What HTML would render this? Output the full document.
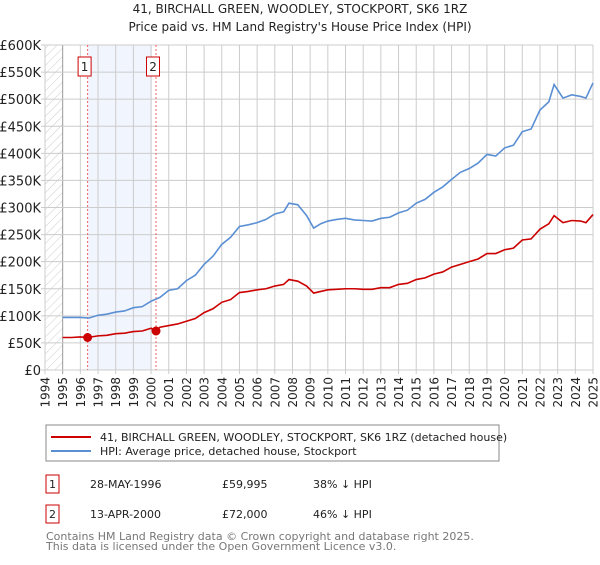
<!DOCTYPE html>
<html><head><meta charset="utf-8"><style>
body{margin:0;background:#fff;font-family:"Liberation Sans","DejaVu Sans",sans-serif;}
svg text{font-family:"DejaVu Sans","Liberation Sans",sans-serif;}
</style></head><body>
<svg id="chart" width="600" height="560" viewBox="0 0 600 560" xmlns="http://www.w3.org/2000/svg">
<defs><pattern id="hatch" width="6" height="6" patternUnits="userSpaceOnUse" patternTransform="rotate(45)"><line x1="0" y1="0" x2="0" y2="6" stroke="#ccc" stroke-width="1"/></pattern></defs>
<text x="300" y="13" text-anchor="middle" font-size="12" fill="#222">41, BIRCHALL GREEN, WOODLEY, STOCKPORT, SK6 1RZ</text>
<text x="300" y="31" text-anchor="middle" font-size="12" fill="#222">Price paid vs. HM Land Registry's House Price Index (HPI)</text>
<g id="grid"></g>
<g id="marks"></g>
<g id="axes"></g>
<rect x="46" y="425" width="453" height="36" fill="#fff" stroke="#888"/>
<line x1="51" y1="437" x2="91" y2="437" stroke="#cc0000" stroke-width="2"/>
<text x="100" y="441" font-size="11" fill="#222">41, BIRCHALL GREEN, WOODLEY, STOCKPORT, SK6 1RZ (detached house)</text>
<line x1="51" y1="451" x2="91" y2="451" stroke="#5b8fd4" stroke-width="2"/>
<text x="100" y="455" font-size="11" fill="#222">HPI: Average price, detached house, Stockport</text>
<g font-size="11" fill="#222">
<rect x="46" y="475" width="13" height="18" fill="#fff" stroke="#cc0000"/><text x="52.5" y="488" text-anchor="middle">1</text>
<text x="90" y="488">28-MAY-1996</text><text x="222" y="488">£59,995</text><text x="313" y="488">38% ↓ HPI</text></g>
<g font-size="11" fill="#222">
<rect x="46" y="505" width="13" height="18" fill="#fff" stroke="#cc0000"/><text x="52.5" y="518" text-anchor="middle">2</text>
<text x="90" y="518">13-APR-2000</text><text x="222" y="518">£72,000</text><text x="313" y="518">46% ↓ HPI</text></g>
<text x="46" y="540" font-size="11" fill="#777">Contains HM Land Registry data © Crown copyright and database right 2025.</text>
<text x="46" y="550" font-size="11" fill="#777">This data is licensed under the Open Government Licence v3.0.</text>
</svg>
<script>
const yearTicks=[1994,1995,1996,1997,1998,1999,2000,2001,2002,2003,2004,2005,2006,2007,2008,2009,2010,2011,2012,2013,2014,2015,2016,2017,2018,2019,2020,2021,2022,2023,2024,2025];
const priceTicks=[0,50000,100000,150000,200000,250000,300000,350000,400000,450000,500000,550000,600000];
const priceTickLabels=["£0","£50K","£100K","£150K","£200K","£250K","£300K","£350K","£400K","£450K","£500K","£550K","£600K"];
const hpiYears=[1995,1995.5,1996,1996.5,1997,1997.5,1998,1998.5,1999,1999.5,2000,2000.5,2001,2001.5,2002,2002.5,2003,2003.5,2004,2004.5,2005,2005.5,2006,2006.5,2007,2007.5,2007.8,2008.3,2008.8,2009.2,2009.6,2010,2010.5,2011,2011.5,2012,2012.5,2013,2013.5,2014,2014.5,2015,2015.5,2016,2016.5,2017,2017.5,2018,2018.5,2019,2019.5,2020,2020.5,2021,2021.5,2022,2022.5,2022.8,2023.3,2023.8,2024.3,2024.6,2025];
const hpiValues=[97000,97000,97000,96000,101000,103000,107000,109000,115000,117000,127000,134000,147000,150000,165000,175000,195000,210000,232000,245000,265000,268000,272000,278000,288000,292000,308000,305000,285000,262000,270000,275000,278000,280000,277000,276000,275000,280000,282000,290000,295000,308000,315000,328000,338000,352000,365000,372000,382000,398000,395000,410000,415000,440000,445000,480000,495000,527000,502000,508000,505000,502000,530000];
const ppYears=[1995,1995.5,1996,1996.41,1997,1997.5,1998,1998.5,1999,1999.5,2000,2000.28,2000.5,2001,2001.5,2002,2002.5,2003,2003.5,2004,2004.5,2005,2005.5,2006,2006.5,2007,2007.5,2007.8,2008.3,2008.8,2009.2,2009.6,2010,2010.5,2011,2011.5,2012,2012.5,2013,2013.5,2014,2014.5,2015,2015.5,2016,2016.5,2017,2017.5,2018,2018.5,2019,2019.5,2020,2020.5,2021,2021.5,2022,2022.5,2022.8,2023.3,2023.8,2024.3,2024.6,2025];
const ppValues=[60000,60000,61000,60000,63000,64000,67000,68000,71000,72000,77000,72000,79000,82000,85000,90000,95000,106000,113000,125000,130000,143000,145000,148000,150000,155000,158000,167000,164000,155000,142000,145000,148000,149000,150000,150000,149000,149000,152000,152000,158000,160000,167000,170000,177000,181000,190000,195000,200000,205000,215000,215000,222000,225000,240000,242000,260000,270000,285000,272000,276000,275000,272000,287000];
const saleYears=[1996.41,2000.28];
const saleValues=[59995,72000];
const saleLabels=["1","2"];
const NS="http://www.w3.org/2000/svg";
const X0=45,X1=593,Y0=370,Y1=45;
const xs=y=>X0+(y-1994)/(2025-1994)*(X1-X0);
const ys=v=>Y0-v/600000*(Y0-Y1);
function mk(tag,attrs,parent,txt){const e=document.createElementNS(NS,tag);for(const k in attrs)e.setAttribute(k,attrs[k]);if(txt!==undefined)e.textContent=txt;parent.appendChild(e);return e;}
const grid=document.getElementById('grid'),marks=document.getElementById('marks'),axes=document.getElementById('axes');
mk('rect',{x:X0,y:Y1,width:X1-X0,height:Y0-Y1,fill:'#fff'},grid);
const hatch=mk('rect',{x:X0,y:Y1,width:xs(1995)-X0,height:Y0-Y1,fill:'url(#hatch)'},grid);


const shade=mk('rect',{x:xs(saleYears[0]),y:Y1,width:xs(saleYears[1])-xs(saleYears[0])-4,height:Y0-Y1,fill:'#eef3fc',opacity:0.8},grid);


yearTicks.forEach(y=>{
  mk('line',{x1:xs(y),y1:Y1,x2:xs(y),y2:Y0+4,stroke:y===1995?'#999':'#ccc','stroke-width':1},grid);
  const t=mk('text',{x:0,y:0,'font-size':12,fill:'#222','text-anchor':'end',transform:`translate(${xs(y)+4.5},${Y0+7}) rotate(-90)`},axes,String(y));
  
  
});
priceTicks.forEach((v,i)=>{
  mk('line',{x1:X0-4,y1:ys(v),x2:X1,y2:ys(v),stroke:'#ccc','stroke-width':1},grid);
  const t=mk('text',{x:X0-4,y:ys(v)+5,'font-size':13,fill:'#222','text-anchor':'end'},axes,priceTickLabels[i]);
  
  
});
saleYears.forEach((y,i)=>{
  const l=mk('line',{x1:xs(y),y1:Y1,x2:xs(y),y2:Y0,stroke:'#f06060','stroke-width':1,'stroke-dasharray':'2,2'},grid);
  
  
});
const hp=mk('polyline',{points:hpiYears.map((y,i)=>xs(y)+','+ys(hpiValues[i])).join(' '),fill:'none',stroke:'#5b8fd4','stroke-width':1.6},marks);


const pp=mk('polyline',{points:ppYears.map((y,i)=>xs(y)+','+ys(ppValues[i])).join(' '),fill:'none',stroke:'#cc0000','stroke-width':1.6},marks);


saleYears.forEach((y,i)=>{
  const c=mk('circle',{cx:xs(y),cy:ys(saleValues[i]),r:4.5,fill:'#cc0000'},marks);
  
  
  const g=mk('g',{},marks);
  
  
  mk('rect',{x:xs(y)-9.5,y:57,width:13,height:19,fill:'#fff',stroke:'#cc0000'},g);
  mk('text',{x:xs(y)-3,y:71,'font-size':12,fill:'#222','text-anchor':'middle'},g,saleLabels[i]);
});
</script>
</body></html>
